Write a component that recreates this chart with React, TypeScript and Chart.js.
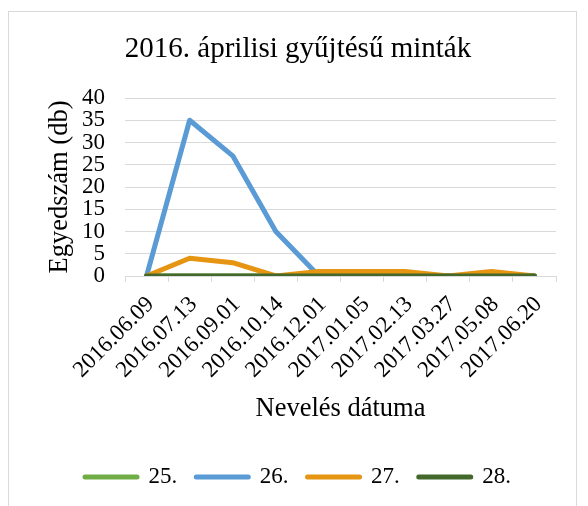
import React, { useEffect, useRef } from 'react';
import { Chart, registerables } from 'chart.js';

Chart.register(...registerables);

const categories = [
  '2016.06.09',
  '2016.07.13',
  '2016.09.01',
  '2016.10.14',
  '2016.12.01',
  '2017.01.05',
  '2017.02.13',
  '2017.03.27',
  '2017.05.08',
  '2017.06.20',
];
const seriesNames = ['25.', '26.', '27.', '28.'];
const series25 = [0, 0, 0, 0, 0, 0, 0, 0, 0, 0];
const series26 = [0, 35, 27, 10, 0, 0, 0, 0, 0, 0];
const series27 = [0, 4, 3, 0, 1, 1, 1, 0, 1, 0];
const series28 = [0, 0, 0, 0, 0, 0, 0, 0, 0, 0];
const seriesColors = ['#70AD47', '#5B9BD5', '#E69512', '#43682B'];

const titleText = '2016. áprilisi gyűjtésű minták';
const xTitle = 'Nevelés dátuma';
const yTitle = 'Egyedszám (db)';
const yMin = 0;
const yMax = 40;
const yStep = 5;

const FONT = "'Liberation Serif', 'Times New Roman', serif";

export default function App() {
  const ref = useRef<HTMLCanvasElement>(null);

  useEffect(() => {
    document.body.style.margin = '0';
    const frame = {
      id: 'frame',
      beforeDraw(chart: any) {
        const ctx = chart.ctx;
        ctx.save();
        ctx.fillStyle = '#ffffff';
        ctx.fillRect(0, 0, chart.width, chart.height);
        ctx.strokeStyle = '#d9d9d9';
        ctx.lineWidth = 1;
        ctx.strokeRect(8.5, 11.5, 568, 520);
        ctx.restore();
      },
    };
    const allSeries = [series25, series26, series27, series28];
    const chart = new Chart(ref.current as HTMLCanvasElement, {
      type: 'line',
      data: {
        labels: categories,
        datasets: allSeries.map((d, i) => ({
          label: seriesNames[i],
          data: d,
          borderColor: seriesColors[i],
          backgroundColor: seriesColors[i],
          order: 4 - i,
        })),
      },
      options: {
        animation: false,
        responsive: false,
        devicePixelRatio: 1,
        layout: { padding: { left: 40, right: 32, top: 12, bottom: 7.5 } },
        elements: {
          line: {
            borderWidth: 5,
            borderCapStyle: 'round',
            borderJoinStyle: 'round',
            tension: 0,
            fill: false,
          },
          point: { radius: 0, hoverRadius: 0 },
        },
        plugins: {
          title: {
            display: true,
            text: titleText,
            color: '#000',
            font: { family: FONT, size: 29, weight: 'normal', lineHeight: 1.2 },
            padding: { top: 20, bottom: 31.2 },
          },
          legend: {
            position: 'bottom',
            labels: {
              usePointStyle: true,
              pointStyleWidth: 52,
              color: '#000',
              font: { family: FONT, size: 23 },
              padding: 19,
              generateLabels: (c: any) =>
                c.data.datasets.map((ds: any, i: number) => ({
                  text: ds.label,
                  fillStyle: ds.borderColor,
                  strokeStyle: ds.borderColor,
                  lineWidth: 5,
                  lineCap: 'round',
                  pointStyle: 'line',
                  hidden: false,
                  datasetIndex: i,
                  fontColor: '#000',
                })),
            },
          },
          tooltip: { enabled: false },
        },
        scales: {
          x: {
            type: 'category',
            offset: true,
            grid: {
              display: true,
              offset: true,
              drawOnChartArea: false,
              drawTicks: true,
              tickLength: 6,
              color: '#d9d9d9',
            },
            border: { display: true, color: '#d9d9d9' },
            ticks: {
              minRotation: 45,
              maxRotation: 45,
              autoSkip: false,
              color: '#000',
              font: { family: FONT, size: 23 },
              padding: 9,
              labelOffset: 4,
            },
            title: {
              display: true,
              text: xTitle,
              color: '#000',
              font: { family: FONT, size: 26.5 },
              padding: { top: 0, bottom: 21.6 },
            },
            afterFit: (s: any) => {
              s.height = 170.5;
            },
          },
          y: {
            min: yMin,
            max: yMax,
            ticks: {
              stepSize: yStep,
              autoSkip: false,
              color: '#000',
              font: { family: FONT, size: 23 },
              padding: 20,
            },
            grid: { color: '#d9d9d9', drawTicks: false },
            border: { display: false },
            title: {
              display: true,
              text: yTitle,
              color: '#000',
              font: { family: FONT, size: 26.5 },
              padding: { top: 4, bottom: 0 },
            },
            afterFit: (s: any) => {
              s.width = 85;
            },
          },
        },
      } as any,
      plugins: [frame],
    });
    return () => chart.destroy();
  }, []);

  return (
    <div style={{ width: 588, height: 506 }}>
      <canvas ref={ref} width={588} height={506} />
    </div>
  );
}
